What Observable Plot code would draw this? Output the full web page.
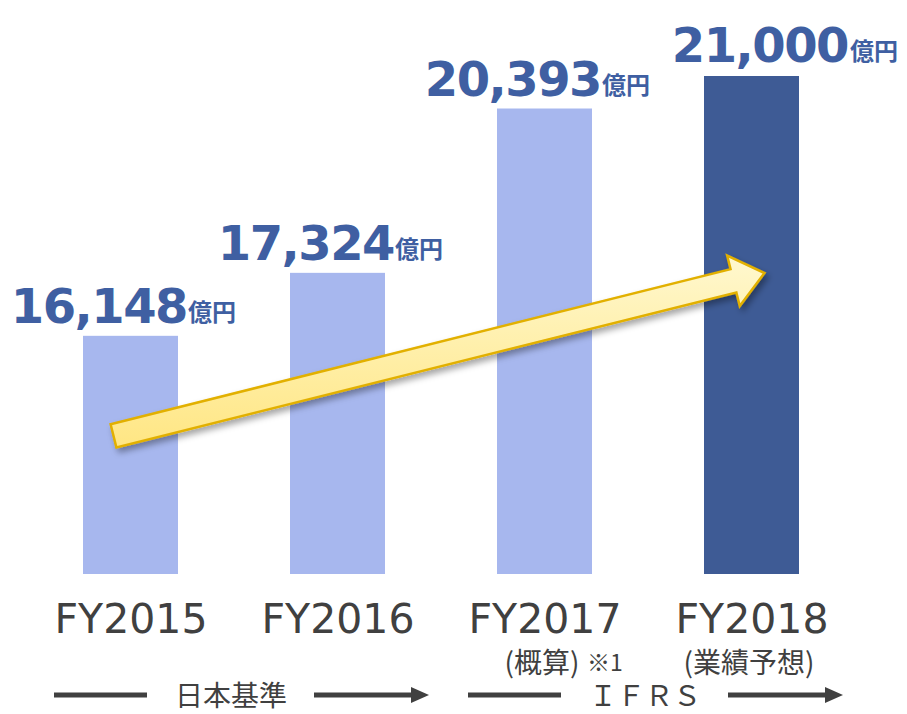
<!DOCTYPE html>
<html><head><meta charset="utf-8">
<script src="https://cdn.jsdelivr.net/npm/d3@7"></script>
<script src="https://cdn.jsdelivr.net/npm/@observablehq/plot@0.6"></script>
<style>body{margin:0;background:#fff;} #chart svg{display:block;}</style>
</head><body><div id="chart"></div>
<script>
// ---- data ----
const categories = ["FY2015", "FY2016", "FY2017", "FY2018"];
const values = [16148, 17324, 20393, 21000];
const subLabels = ["", "", "(概算)", "(業績予想)"];
const notes = ["", "", "※1", ""];
const forecast = [false, false, false, true];
const unit = "億円";
const groupLabels = ["日本基準", "ＩＦＲＳ"];
const groupFrom = ["FY2015", "FY2017"];
const groupTo = ["FY2016", "FY2018"];
const yFloor = 11700;          // the axis does not start at zero
const yTop = 21000;
const trendFrom = ["FY2015", 14280];
const trendTo = ["FY2018", 17320];

const data = categories.map((c, i) => ({cat: c, value: values[i], sub: subLabels[i], note: notes[i], forecast: forecast[i]}));
const BLUE = "#3F5FA2", LIGHT = "#A7B7EE", DARK = "#3E5B95", GRAY = "#404040";
const fmt = d3.format(",");
const NUM_FONT = "'DejaVu Sans', Verdana, sans-serif";
const JP_FONT = "'Noto Sans CJK JP', 'Noto Sans', sans-serif";

const chart = Plot.plot({
  width: 907, height: 714,
  marginTop: 76, marginBottom: 140, marginLeft: 13, marginRight: 0,
  style: {background: "#fff", overflow: "visible"},
  x: {type: "band", domain: categories, range: [27, 856], paddingInner: 0.54, paddingOuter: 0.27, axis: null},
  y: {type: "linear", domain: [yFloor, yTop], axis: null},
  color: {type: "identity"},
  marks: [
    Plot.barY(data, {x: "cat", y1: yFloor, y2: "value", fill: d => d.forecast ? DARK : LIGHT}),
    Plot.ruleY([yFloor], {stroke: "#454545", strokeWidth: 6, dy: 2}),
    // value labels
    Plot.text(data.slice(0, 3), {x: "cat", y: "value", text: d => fmt(d.value), textAnchor: "end", lineAnchor: "bottom",
      dx: 56, dy: -13, fontSize: 48, fontWeight: "bold", fontFamily: NUM_FONT, fill: BLUE}),
    Plot.text(data.slice(3), {x: "cat", y: "value", text: d => fmt(d.value), textAnchor: "end", lineAnchor: "bottom",
      dx: 96, dy: -15, fontSize: 48, fontWeight: "bold", fontFamily: NUM_FONT, fill: BLUE}),
    Plot.text(data.slice(0, 3), {x: "cat", y: "value", text: () => unit, textAnchor: "start", lineAnchor: "bottom",
      dx: 57, dy: -15, fontSize: 24, fontWeight: "bold", fontFamily: JP_FONT, fill: BLUE}),
    Plot.text(data.slice(3), {x: "cat", y: "value", text: () => unit, textAnchor: "start", lineAnchor: "bottom",
      dx: 98, dy: -17, fontSize: 24, fontWeight: "bold", fontFamily: JP_FONT, fill: BLUE}),
    // category labels
    Plot.text(data, {x: "cat", text: "cat", frameAnchor: "bottom", lineAnchor: "bottom", dy: 58,
      fontSize: 41, fontFamily: NUM_FONT, fill: GRAY}),
    Plot.text(data.filter(d => d.sub), {x: "cat", text: "sub", frameAnchor: "bottom", lineAnchor: "bottom", dy: 98,
      dx: -3, fontSize: 28, fontFamily: JP_FONT, fill: GRAY}),
    Plot.text(data.filter(d => d.note), {x: "cat", text: "note", frameAnchor: "bottom", lineAnchor: "bottom", dy: 96,
      dx: 42, textAnchor: "start", fontSize: 23, fontFamily: JP_FONT, fill: GRAY})
  ]
});

document.getElementById("chart").appendChild(chart);

// ---- decorations using the plot's own scales ----
const svg = d3.select(chart);
const xs = chart.scale("x"), ys = chart.scale("y");
const bw = xs.bandwidth;
const cx = c => xs.apply(c) + bw / 2;
const frameBottom = ys.apply(yFloor);

// tighten the big numbers a little
svg.selectAll("text").filter(function() { return /^\d{2},\d{3}$/.test(this.textContent); })
  .attr("letter-spacing", "-1.5");

const defs = svg.insert("defs", ":first-child");
const grad = defs.append("linearGradient").attr("id", "arrowGrad")
  .attr("x1", "0").attr("y1", "0").attr("x2", "0").attr("y2", "1");
grad.append("stop").attr("offset", "0%").attr("stop-color", "#FFF8CF");
grad.append("stop").attr("offset", "100%").attr("stop-color", "#FFE683");
const sh = defs.append("filter").attr("id", "shadow").attr("x", "-20%").attr("y", "-50%").attr("width", "140%").attr("height", "200%");
sh.append("feDropShadow").attr("dx", 3).attr("dy", 4).attr("stdDeviation", 3).attr("flood-color", "#000").attr("flood-opacity", 0.35);
const sh2 = defs.append("filter").attr("id", "lineShadow").attr("x", "-5%").attr("y", "-200%").attr("width", "110%").attr("height", "500%");
sh2.append("feDropShadow").attr("dx", 1).attr("dy", 3).attr("stdDeviation", 2).attr("flood-color", "#000").attr("flood-opacity", 0.35);
svg.selectAll("g[aria-label='rule']").attr("filter", "url(#lineShadow)");

// trend arrow
(function() {
  const p0 = [cx(trendFrom[0]) - 17, ys.apply(trendFrom[1])];
  const p1 = [cx(trendTo[0]) + 13, ys.apply(trendTo[1])];
  const dx = p1[0] - p0[0], dy = p1[1] - p0[1], L = Math.hypot(dx, dy);
  const u = [dx / L, dy / L], n = [-u[1], u[0]];
  const hw = 12, HW = 26, HL = 32;
  const s = [p1[0] - u[0] * HL, p1[1] - u[1] * HL];
  const pt = (b, k) => [b[0] + n[0] * k, b[1] + n[1] * k];
  const pts = [pt(p0, -hw), pt(s, -hw), pt(s, -HW), p1, pt(s, HW), pt(s, hw), pt(p0, hw)];
  svg.append("polygon").attr("points", pts.map(p => p.join(",")).join(" "))
    .attr("fill", "url(#arrowGrad)").attr("stroke", "#E2B000").attr("stroke-width", 2.5)
    .attr("stroke-linejoin", "miter").attr("filter", "url(#shadow)");
})();

// accounting standard groups
groupLabels.forEach((label, i) => {
  const c = (cx(groupFrom[i]) + cx(groupTo[i])) / 2;
  const ly = frameBottom + 121;
  const g = svg.append("g");
  g.append("line").attr("x1", c - 180).attr("x2", c - 87).attr("y1", ly).attr("y2", ly)
    .attr("stroke", GRAY).attr("stroke-width", 5);
  g.append("line").attr("x1", c + 80).attr("x2", c + 180).attr("y1", ly).attr("y2", ly)
    .attr("stroke", GRAY).attr("stroke-width", 5);
  g.append("polygon").attr("points", `${c + 177},${ly - 8} ${c + 195},${ly} ${c + 177},${ly + 8}`).attr("fill", GRAY);
  g.append("text").attr("x", c - 3).attr("y", frameBottom + 132).attr("text-anchor", "middle")
    .attr("font-family", JP_FONT).attr("font-size", 28).attr("fill", GRAY).text(label);
});
</script>
</body></html>
